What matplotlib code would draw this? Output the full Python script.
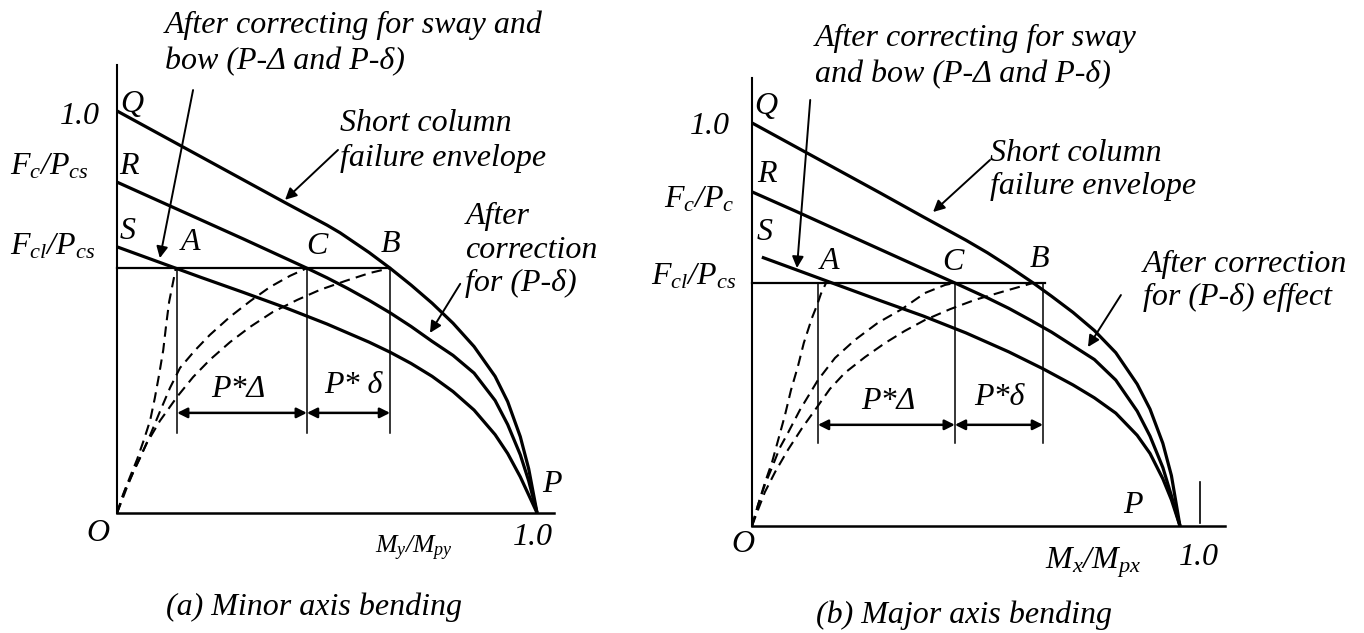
import numpy as np
import matplotlib.pyplot as plt

plt.rcParams['font.family'] = 'Liberation Serif'
plt.rcParams['font.style'] = 'italic'
plt.rcParams['mathtext.fontset'] = 'custom'
plt.rcParams['mathtext.it'] = 'Liberation Serif:italic'
plt.rcParams['mathtext.rm'] = 'Liberation Serif:italic'

# (a) minor axis bending: M/Mp along x, P/Pc along y
a_q_x = [0.0, 0.1, 0.2, 0.3, 0.4, 0.5, 0.531, 0.6, 0.65, 0.7, 0.75, 0.8, 0.85, 0.9, 0.93, 0.96, 0.98, 1.0]
a_q_y = [1.0, 0.943, 0.886, 0.829, 0.772, 0.716, 0.697, 0.648, 0.609, 0.567, 0.522, 0.472, 0.414, 0.340, 0.277, 0.190, 0.110, 0.0]
a_r_x = [0.0, 0.1, 0.2, 0.3, 0.4, 0.452, 0.5, 0.55, 0.6, 0.65, 0.7, 0.75, 0.8, 0.85, 0.9, 0.93, 0.96, 0.98, 1.0]
a_r_y = [0.823, 0.776, 0.729, 0.682, 0.634, 0.609, 0.585, 0.558, 0.529, 0.498, 0.464, 0.427, 0.392, 0.348, 0.280, 0.220, 0.145, 0.080, 0.0]
a_s_x = [0.0, 0.1, 0.2, 0.3, 0.4, 0.5, 0.6, 0.65, 0.7, 0.75, 0.8, 0.85, 0.9, 0.93, 0.96, 0.98, 1.0]
a_s_y = [0.662, 0.624, 0.586, 0.549, 0.511, 0.470, 0.425, 0.400, 0.372, 0.340, 0.302, 0.256, 0.195, 0.148, 0.090, 0.045, 0.0]
a_d1_x = [0.0, 0.014, 0.031, 0.048, 0.064, 0.079, 0.090, 0.100, 0.110, 0.117, 0.124, 0.133, 0.140]
a_d1_y = [0.0, 0.045, 0.090, 0.134, 0.182, 0.231, 0.286, 0.343, 0.405, 0.468, 0.525, 0.572, 0.609]
a_d2_x = [0.0, 0.012, 0.024, 0.038, 0.055, 0.079, 0.102, 0.126, 0.150, 0.186, 0.221, 0.269, 0.317, 0.364, 0.412, 0.452]
a_d2_y = [0.0, 0.032, 0.065, 0.100, 0.137, 0.194, 0.252, 0.311, 0.361, 0.405, 0.443, 0.488, 0.527, 0.562, 0.590, 0.609]
a_d3_x = [0.0, 0.019, 0.038, 0.055, 0.071, 0.102, 0.143, 0.181, 0.221, 0.269, 0.317, 0.371, 0.429, 0.483, 0.543, 0.602, 0.65]
a_d3_y = [0.0, 0.057, 0.100, 0.139, 0.174, 0.229, 0.289, 0.338, 0.381, 0.425, 0.463, 0.500, 0.530, 0.555, 0.577, 0.597, 0.609]
a_level = 0.609
a_marks = [0.143, 0.452, 0.65]   # A, C, B
a_mark_bottom = 0.20
a_arrow_y = 0.249

# (b) major axis bending
b_q_x = [0.0, 0.1, 0.2, 0.3, 0.4, 0.5, 0.55, 0.6, 0.657, 0.7, 0.75, 0.8, 0.85, 0.9, 0.93, 0.96, 0.98, 1.0]
b_q_y = [1.0, 0.942, 0.884, 0.826, 0.767, 0.709, 0.678, 0.644, 0.603, 0.570, 0.530, 0.485, 0.430, 0.352, 0.290, 0.205, 0.125, 0.0]
b_r_x = [0.0, 0.1, 0.2, 0.3, 0.4, 0.474, 0.55, 0.6, 0.65, 0.7, 0.75, 0.8, 0.85, 0.9, 0.93, 0.96, 0.98, 1.0]
b_r_y = [0.829, 0.782, 0.734, 0.686, 0.638, 0.603, 0.566, 0.540, 0.511, 0.481, 0.447, 0.413, 0.362, 0.285, 0.223, 0.145, 0.075, 0.0]
b_s_x = [0.023, 0.1, 0.187, 0.3, 0.4, 0.5, 0.6, 0.68, 0.75, 0.8, 0.85, 0.9, 0.93, 0.96, 0.98, 1.0]
b_s_y = [0.667, 0.637, 0.603, 0.559, 0.521, 0.479, 0.432, 0.390, 0.350, 0.318, 0.280, 0.225, 0.180, 0.117, 0.065, 0.0]
b_d1_x = [0.0, 0.014, 0.030, 0.047, 0.061, 0.077, 0.091, 0.107, 0.121, 0.140, 0.152, 0.161, 0.173]
b_d1_y = [0.0, 0.052, 0.107, 0.159, 0.213, 0.275, 0.337, 0.395, 0.454, 0.516, 0.548, 0.576, 0.603]
b_d2_x = [0.0, 0.014, 0.030, 0.047, 0.065, 0.084, 0.112, 0.154, 0.194, 0.241, 0.294, 0.350, 0.404, 0.451, 0.474]
b_d2_y = [0.0, 0.052, 0.102, 0.146, 0.194, 0.231, 0.288, 0.362, 0.417, 0.462, 0.504, 0.538, 0.578, 0.598, 0.603]
b_d3_x = [0.0, 0.014, 0.030, 0.054, 0.084, 0.117, 0.152, 0.182, 0.217, 0.264, 0.311, 0.357, 0.404, 0.463, 0.521, 0.591, 0.657]
b_d3_y = [0.0, 0.040, 0.084, 0.134, 0.189, 0.243, 0.295, 0.340, 0.380, 0.419, 0.454, 0.484, 0.511, 0.538, 0.561, 0.583, 0.603]
b_level = 0.603
b_marks = [0.154, 0.474, 0.680]
b_mark_bottom = 0.206
b_arrow_y = 0.251

fig = plt.figure(figsize=(13.64, 6.33), dpi=100)
ax_a = fig.add_axes([0, 0, 0.5, 1])
ax_b = fig.add_axes([0.5, 0, 0.5, 1])
ax_a.set_xlim(-0.2786, 1.345)
ax_a.set_ylim(-0.2985, 1.276)
ax_b.set_xlim(-0.1636, 1.430)
ax_b.set_ylim(-0.2655, 1.305)
for ax in (ax_a, ax_b):
    ax.axis('off')

FS = 23
thick = dict(color='black', lw=2.3, solid_capstyle='butt', solid_joinstyle='round')
dash = dict(color='black', lw=1.5, dashes=(5, 3))
arrow = dict(arrowstyle='-|>', color='black', lw=1.4, mutation_scale=17, shrinkA=0, shrinkB=0)
dbl = dict(arrowstyle='<|-|>', color='black', lw=1.8, mutation_scale=15, shrinkA=0, shrinkB=0)


def draw_panel(ax, q, r, s, d1, d2, d3, level, level_end, marks, mark_bottom, arrow_y,
               y_top, x_end):
    ax.plot([0, 0], [0, y_top], color='black', lw=1.5)
    ax.plot([0, x_end], [0, 0], color='black', lw=1.8)
    ax.plot([0, level_end], [level, level], color='black', lw=1.6)
    for cx, cy in (q, r, s):
        ax.plot(cx, cy, **thick)
    for cx, cy in (d1, d2, d3):
        ax.plot(cx, cy, **dash)
    for m in marks:
        ax.plot([m, m], [mark_bottom, level], color='black', lw=1.1)
    ax.annotate('', xy=(marks[0], arrow_y), xytext=(marks[1], arrow_y), arrowprops=dbl)
    ax.annotate('', xy=(marks[1], arrow_y), xytext=(marks[2], arrow_y), arrowprops=dbl)


draw_panel(ax_a, (a_q_x, a_q_y), (a_r_x, a_r_y), (a_s_x, a_s_y),
           (a_d1_x, a_d1_y), (a_d2_x, a_d2_y), (a_d3_x, a_d3_y),
           a_level, 0.65, a_marks, a_mark_bottom, a_arrow_y, 1.114, 1.04)
draw_panel(ax_b, (b_q_x, b_q_y), (b_r_x, b_r_y), (b_s_x, b_s_y),
           (b_d1_x, b_d1_y), (b_d2_x, b_d2_y), (b_d3_x, b_d3_y),
           b_level, 0.685, b_marks, b_mark_bottom, b_arrow_y, 1.112, 1.105)
ax_b.plot([1.047, 1.047], [0.007, 0.109], color='black', lw=1.2)

# panel (a) text
ax_a.text(0.114, 1.169, 'After correcting for sway and\nbow (P-\u0394 and P-\u03b4)',
          fontsize=FS, ha='left', va='center', linespacing=1.3)
ax_a.annotate('', xy=(0.102, 0.634), xytext=(0.181, 1.052), arrowprops=arrow)
ax_a.text(0.531, 0.925, 'Short column\nfailure envelope', fontsize=FS,
          ha='left', va='center', linespacing=1.25)
ax_a.annotate('', xy=(0.40, 0.779), xytext=(0.526, 0.903), arrowprops=arrow)
ax_a.text(0.829, 0.654, 'After\ncorrection\nfor (P-\u03b4)', fontsize=FS,
          ha='left', va='center', linespacing=1.2)
ax_a.annotate('', xy=(0.745, 0.448), xytext=(0.817, 0.570), arrowprops=arrow)
ax_a.text(-0.040, 0.985, '1.0', fontsize=FS, ha='right', va='center')
ax_a.text(-0.255, 0.861, '$F_c/P_{cs}$', fontsize=FS, ha='left', va='center')
ax_a.text(-0.255, 0.662, '$F_{cl}/P_{cs}$', fontsize=FS, ha='left', va='center')
for lab, x, y in [('Q', 0.036, 1.015), ('R', 0.029, 0.861), ('S', 0.026, 0.699),
                  ('A', 0.174, 0.672), ('C', 0.476, 0.662), ('B', 0.65, 0.667)]:
    ax_a.text(x, y, lab, fontsize=FS, ha='center', va='center')
ax_a.text(0.288, 0.306, 'P*\u0394', fontsize=FS, ha='center', va='center')
ax_a.text(0.562, 0.318, 'P* \u03b4', fontsize=FS, ha='center', va='center')
ax_a.text(-0.045, -0.05, 'O', fontsize=FS, ha='center', va='center')
ax_a.text(1.036, 0.07, 'P', fontsize=FS, ha='center', va='center')
ax_a.text(0.99, -0.062, '1.0', fontsize=FS, ha='center', va='center')
ax_a.text(0.707, -0.087, '$M_y/M_{py}$', fontsize=18.5, ha='center', va='center')
ax_a.text(0.469, -0.234, '(a) Minor axis bending', fontsize=FS, ha='center', va='center')

# panel (b) text
ax_b.text(0.147, 1.164, 'After correcting for sway\nand bow (P-\u0394 and P-\u03b4)',
          fontsize=FS, ha='left', va='center', linespacing=1.3)
ax_b.annotate('', xy=(0.105, 0.640), xytext=(0.136, 1.057), arrowprops=arrow)
ax_b.text(0.556, 0.883, 'Short column\nfailure envelope', fontsize=FS,
          ha='left', va='center', linespacing=1.2)
ax_b.annotate('', xy=(0.423, 0.779), xytext=(0.556, 0.908), arrowprops=arrow)
ax_b.text(0.914, 0.608, 'After correction\nfor (P-\u03b4) effect', fontsize=FS,
          ha='left', va='center', linespacing=1.2)
ax_b.annotate('', xy=(0.785, 0.444), xytext=(0.862, 0.573), arrowprops=arrow)
ax_b.text(-0.051, 0.990, '1.0', fontsize=FS, ha='right', va='center')
ax_b.text(-0.042, 0.809, '$F_c/P_c$', fontsize=FS, ha='right', va='center')
ax_b.text(-0.037, 0.618, '$F_{cl}/P_{cs}$', fontsize=FS, ha='right', va='center')
for lab, x, y in [('Q', 0.033, 1.04), ('R', 0.035, 0.871), ('S', 0.030, 0.727),
                  ('A', 0.182, 0.655), ('C', 0.470, 0.653), ('B', 0.671, 0.660)]:
    ax_b.text(x, y, lab, fontsize=FS, ha='center', va='center')
ax_b.text(0.318, 0.308, 'P*\u0394', fontsize=FS, ha='center', va='center')
ax_b.text(0.579, 0.318, 'P*\u03b4', fontsize=FS, ha='center', va='center')
ax_b.text(-0.021, -0.047, 'O', fontsize=FS, ha='center', va='center')
ax_b.text(0.890, 0.052, 'P', fontsize=FS, ha='center', va='center')
ax_b.text(1.044, -0.077, '1.0', fontsize=FS, ha='center', va='center')
ax_b.text(0.797, -0.092, '$M_x/M_{px}$', fontsize=FS, ha='center', va='center')
ax_b.text(0.495, -0.221, '(b) Major axis bending', fontsize=FS, ha='center', va='center')

fig.savefig('out.png', dpi=100, facecolor='white')
